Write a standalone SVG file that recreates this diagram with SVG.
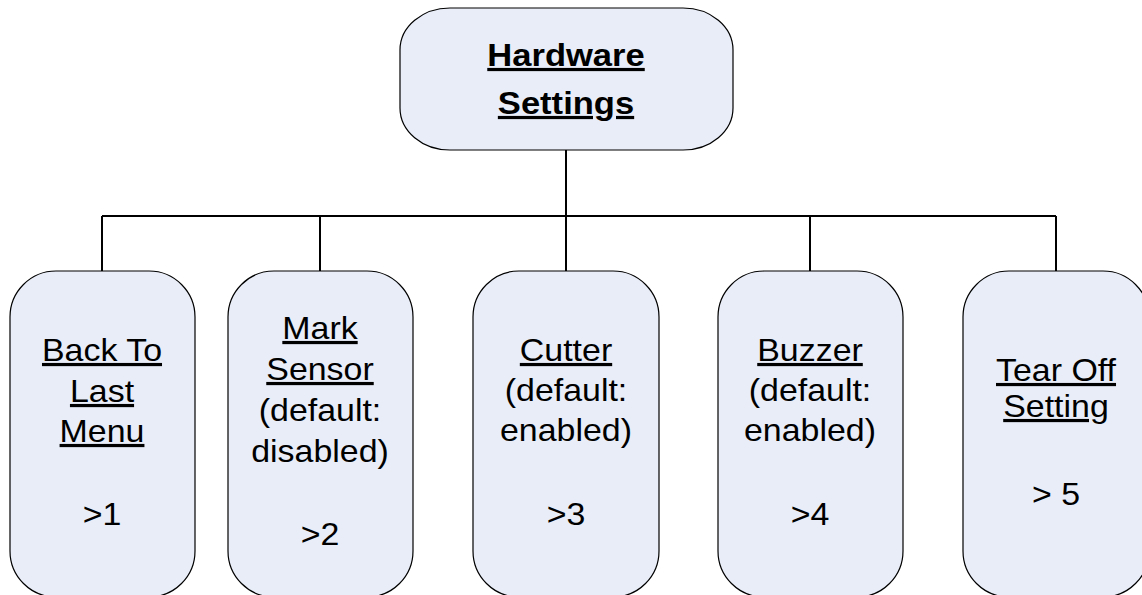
<svg xmlns="http://www.w3.org/2000/svg" width="1142" height="595" viewBox="0 0 1142 595">
<style>
.n{fill:#e8edf8;stroke:#000;stroke-width:1.2}
.t{font-family:"Liberation Sans",Arial,sans-serif;font-size:32px;text-anchor:middle;fill:#000}
.u{text-decoration:underline}
.b{font-weight:bold}
.c{fill:none;stroke:#000;stroke-width:2}
</style>
<rect width="1142" height="595" fill="#fff"/>
<g id="connectors">
<path class="c" d="M566 150V216M102 216H1056M102 216V271M320 216V271M566 216V271M810 216V271M1056 216V271"/>
</g>
<g id="hardware">
<rect class="n" x="400" y="8" width="333" height="142" rx="50" ry="42"/>
<g transform="translate(566 0) scale(1.08 1)">
<text class="t b u" x="0" y="66">Hardware</text>
<text class="t b u" x="0" y="114">Settings</text>
</g>
</g>
<g id="back">
<rect class="n" x="10" y="271" width="185" height="326" rx="46" ry="46"/>
<g transform="translate(102 0) scale(1.06 1)">
<text class="t u" x="0" y="361">Back To</text>
<text class="t u" x="0" y="402">Last</text>
<text class="t u" x="0" y="442">Menu</text>
<text class="t" x="0" y="525">&gt;1</text>
</g>
</g>
<g id="mark">
<rect class="n" x="228" y="271" width="185" height="326" rx="46" ry="46"/>
<g transform="translate(320 0) scale(1.06 1)">
<text class="t u" x="0" y="339">Mark</text>
<text class="t u" x="0" y="380">Sensor</text>
<text class="t" x="0" y="421">(default:</text>
<text class="t" x="0" y="462">disabled)</text>
<text class="t" x="0" y="545">&gt;2</text>
</g>
</g>
<g id="cutter">
<rect class="n" x="473" y="271" width="186" height="326" rx="46" ry="46"/>
<g transform="translate(566 0) scale(1.06 1)">
<text class="t u" x="0" y="361">Cutter</text>
<text class="t" x="0" y="401">(default:</text>
<text class="t" x="0" y="441">enabled)</text>
<text class="t" x="0" y="525">&gt;3</text>
</g>
</g>
<g id="buzzer">
<rect class="n" x="718" y="271" width="185" height="326" rx="46" ry="46"/>
<g transform="translate(810 0) scale(1.06 1)">
<text class="t u" x="0" y="361">Buzzer</text>
<text class="t" x="0" y="401">(default:</text>
<text class="t" x="0" y="441">enabled)</text>
<text class="t" x="0" y="525">&gt;4</text>
</g>
</g>
<g id="tearoff">
<rect class="n" x="963" y="271" width="186" height="326" rx="46" ry="46"/>
<g transform="translate(1056 0) scale(1.06 1)">
<text class="t u" x="0" y="381">Tear Off</text>
<text class="t u" x="0" y="417">Setting</text>
<text class="t" x="0" y="505">&gt; 5</text>
</g>
</g>
</svg>
